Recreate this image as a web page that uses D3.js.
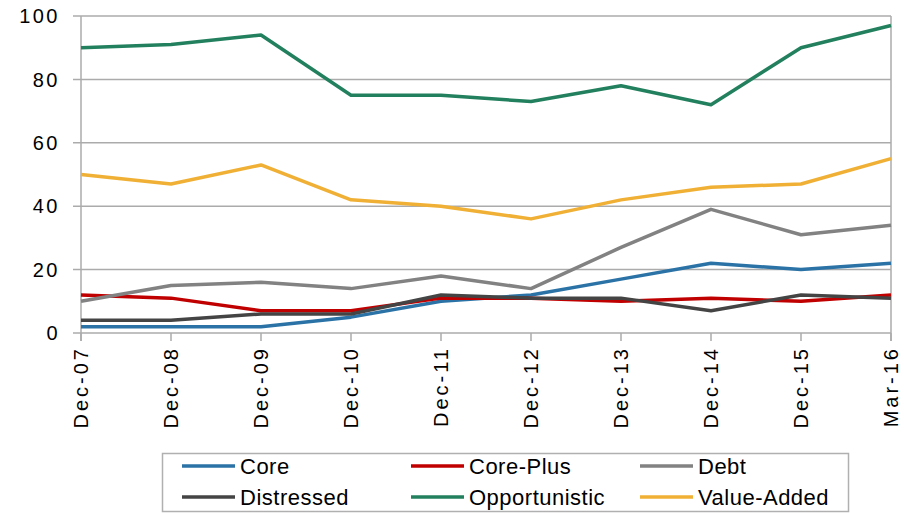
<!DOCTYPE html>
<html><head><meta charset="utf-8">
<script src="https://cdn.jsdelivr.net/npm/d3@7/dist/d3.min.js"></script>
<style>body{margin:0;background:#fff}svg{display:block}text{font-family:"Liberation Sans",Arial,sans-serif;fill:#000}</style>
</head><body><svg id="c" width="904" height="513"></svg>
<script>
const categories = ["Dec-07","Dec-08","Dec-09","Dec-10","Dec-11","Dec-12","Dec-13","Dec-14","Dec-15","Mar-16"];
const seriesNames = ["Core","Core-Plus","Debt","Distressed","Opportunistic","Value-Added"];
const core         = [2, 2, 2, 5, 10, 12, 17, 22, 20, 22];
const corePlus     = [12, 11, 7, 7, 11, 11, 10, 11, 10, 12];
const debt         = [10, 15, 16, 14, 18, 14, 27, 39, 31, 34];
const distressed   = [4, 4, 6, 6, 12, 11, 11, 7, 12, 11];
const opportunistic= [90, 91, 94, 75, 75, 73, 78, 72, 90, 97];
const valueAdded   = [50, 47, 53, 42, 40, 36, 42, 46, 47, 55];
const yTicks = [0, 20, 40, 60, 80, 100];
const colors = ["#2b73a6","#c00000","#828282","#444444","#23805e","#f0b035"];

const seriesValues = [core, corePlus, debt, distressed, opportunistic, valueAdded];
const svg = d3.select("#c");
const L = 81, R = 891, T = 16, B = 333;
const x = d3.scalePoint().domain(categories).range([L, R]);
const y = d3.scaleLinear().domain([0, 100]).range([B, T]);
const gridC = "#ababab";

// gridlines + y ticks
svg.append("g").selectAll("line").data(yTicks).join("line")
  .attr("x1", L - 8).attr("x2", R).attr("y1", d => y(d)).attr("y2", d => y(d))
  .attr("stroke", gridC).attr("stroke-width", 1.5);
// y axis and right border
svg.append("line").attr("x1", L).attr("x2", L).attr("y1", T).attr("y2", B + 8).attr("stroke", gridC).attr("stroke-width", 1.5);
svg.append("line").attr("x1", R).attr("x2", R).attr("y1", T).attr("y2", B + 8).attr("stroke", gridC).attr("stroke-width", 1.5);
// x ticks
svg.append("g").selectAll("line").data(categories).join("line")
  .attr("x1", d => x(d)).attr("x2", d => x(d)).attr("y1", B).attr("y2", B + 8)
  .attr("stroke", gridC).attr("stroke-width", 1.5);
// y labels
svg.append("g").selectAll("text").data(yTicks).join("text")
  .attr("x", 60).attr("y", d => y(d)).attr("dy", "0.36em").attr("text-anchor", "end")
  .style("font-size", "20px").style("letter-spacing", "2.5px").text(d => d);
// x labels
svg.append("g").selectAll("text").data(categories).join("text")
  .attr("transform", d => `translate(${x(d)},346) rotate(-90)`)
  .attr("dy", "0.36em").attr("text-anchor", "end")
  .style("font-size", "20px").style("letter-spacing", "3px").text(d => d);

// lines
const line = d3.line().x((d, i) => x(categories[i])).y(d => y(d));
svg.append("g").selectAll("path").data(seriesValues).join("path")
  .attr("d", d => line(d)).attr("fill", "none")
  .attr("stroke", (d, i) => colors[i]).attr("stroke-width", 3.5)
  .attr("stroke-linejoin", "round");

// legend
svg.append("rect").attr("x", 162.5).attr("y", 453.5).attr("width", 686).attr("height", 58)
  .attr("fill", "#fff").attr("stroke", "#b0b0b0").attr("stroke-width", 1.5);
const colX = [182, 411, 640], rowY = [466, 497];
const lg = svg.append("g").selectAll("g").data(seriesNames).join("g")
  .attr("transform", (d, i) => `translate(${colX[i % 3]},${rowY[Math.floor(i / 3)]})`);
lg.append("line").attr("x1", 0).attr("x2", 53).attr("stroke", (d, i) => colors[i]).attr("stroke-width", 3.5);
lg.append("text").attr("x", 58).attr("dy", "0.36em").style("font-size", "22px").style("letter-spacing", "0.5px").text(d => d);
</script></body></html>
